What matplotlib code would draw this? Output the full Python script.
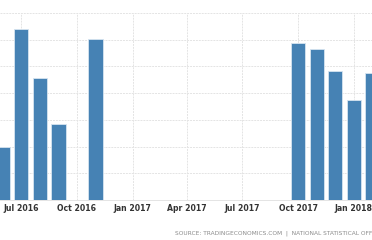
from datetime import date

import matplotlib

matplotlib.use("Agg")
import matplotlib.dates as mdates
import matplotlib.pyplot as plt

months = ["2016-06", "2016-07", "2016-08", "2016-09", "2016-11",
          "2017-10", "2017-11", "2017-12", "2018-01", "2018-02"]
values = [1.99, 6.40, 4.57, 2.85, 6.03, 5.88, 5.66, 4.83, 3.75, 4.76]
tick_months = ["2016-07", "2016-10", "2017-01", "2017-04", "2017-07", "2017-10", "2018-01"]
tick_labels = ["Jul 2016", "Oct 2016", "Jan 2017", "Apr 2017", "Jul 2017", "Oct 2017", "Jan 2018"]
source = "SOURCE: TRADINGECONOMICS.COM  |  NATIONAL STATISTICAL OFFICE"


def to_num(m):
    y, mo = m.split("-")
    return mdates.date2num(date(int(y), int(mo), 1))


x = [to_num(m) for m in months]

fig = plt.figure(figsize=(3.72, 2.4), dpi=100)
ax = fig.add_axes([0.0, 40 / 240, 1.0, 187 / 240])
ax.bar(x, values, width=24, color="#4682b4", edgecolor="#d6e4f0", linewidth=0.6, zorder=3)

ax.set_xlim(mdates.date2num(date(2016, 5, 27)), mdates.date2num(date(2018, 1, 31)))
ax.set_ylim(0, 7)
ax.set_yticks(range(0, 8))
ax.set_xticks([to_num(m) for m in tick_months])
ax.set_xticklabels(tick_labels)
ax.tick_params(axis="x", length=0, pad=3.2, labelsize=5.6, labelcolor="#333333")
ax.tick_params(axis="y", length=0, labelleft=False)
for lbl in ax.get_xticklabels():
    lbl.set_fontweight("semibold")
ax.grid(True, color="#e4e4e4", linestyle=(0, (2, 1)), linewidth=0.7, zorder=0)
for side in ("left", "right", "top"):
    ax.spines[side].set_visible(False)
ax.spines["bottom"].set_color("#e4e4e4")
ax.spines["bottom"].set_linewidth(0.7)

fig.text(175 / 372, 1 - 233 / 240, source, fontsize=4.2, color="#8a8a8a",
         ha="left", va="center")

fig.savefig("out.png", dpi=100)
